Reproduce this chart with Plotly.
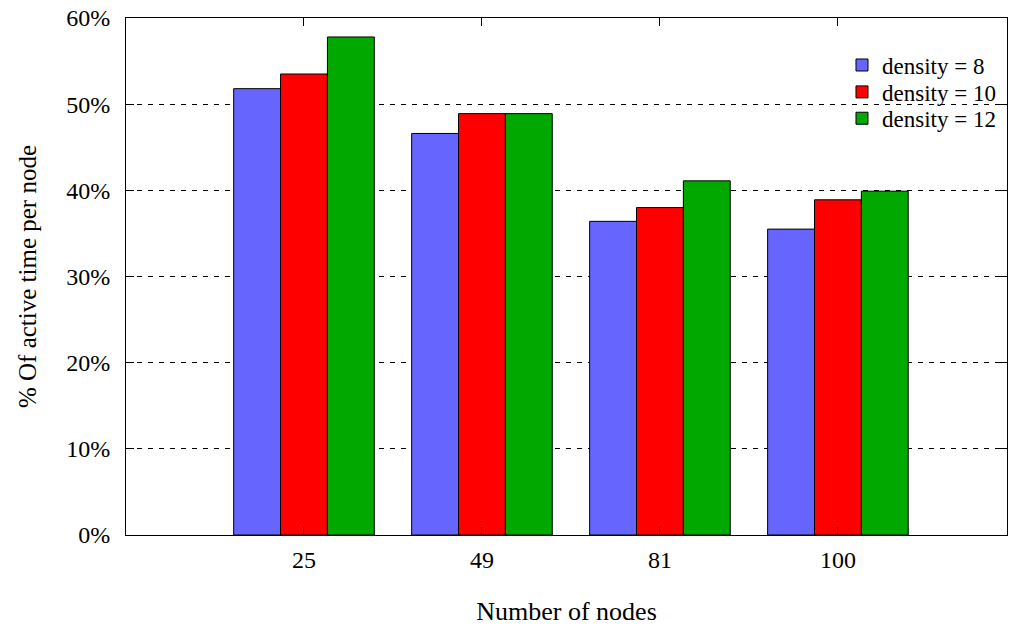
import plotly.graph_objects as go

categories = ["25", "49", "81", "100"]
density_8 = [51.8, 46.6, 36.4, 35.5]
density_10 = [53.5, 48.9, 38.0, 38.9]
density_12 = [57.8, 48.9, 41.1, 39.9]
series_names = ["density = 8", "density = 10", "density = 12"]
colors = ["#6666FF", "#FF0000", "#00A800"]
y_ticks = [0, 10, 20, 30, 40, 50, 60]
y_tick_labels = ["0%", "10%", "20%", "30%", "40%", "50%", "60%"]

font_family = "Liberation Serif"
legend_ids = ["legend", "legend2", "legend3"]
legend_y = [0.909, 0.857, 0.806]

fig = go.Figure()
for name, vals, col, lid in zip(series_names, [density_8, density_10, density_12], colors, legend_ids):
    fig.add_trace(go.Bar(
        x=categories, y=vals, name=name, legend=lid,
        marker=dict(color=col, line=dict(color="black", width=1)),
    ))

legend_common = dict(
    x=0.8127, xanchor="left", yanchor="middle",
    bgcolor="rgba(0,0,0,0)", font=dict(size=23, family=font_family),
    itemwidth=30, borderwidth=0,
)

layout_legends = {lid: dict(legend_common, y=ly) for lid, ly in zip(legend_ids, legend_y)}

fig.update_layout(
    width=1024, height=634,
    margin=dict(l=126, r=17, t=18, b=99, autoexpand=False),
    paper_bgcolor="white", plot_bgcolor="white",
    barmode="group", bargap=0.21, bargroupgap=0,
    font=dict(family=font_family, size=23, color="black"),
    showlegend=True,
    xaxis=dict(
        type="category", range=[-1, 3.95], automargin=False,
        showline=True, linecolor="black", linewidth=1, mirror="ticks",
        ticks="inside", ticklen=8, tickcolor="black",
        showgrid=False, tickfont=dict(size=24), ticklabelstandoff=3,
        title=dict(text="Number of nodes", font=dict(size=26), standoff=30),
    ),
    yaxis=dict(
        range=[0, 60], tickvals=y_ticks, ticktext=y_tick_labels, automargin=False,
        showline=True, linecolor="black", linewidth=1, mirror="ticks",
        ticks="inside", ticklen=8, tickcolor="black",
        showgrid=True, gridcolor="black", gridwidth=1, griddash="5px,6px",
        zeroline=False, tickfont=dict(size=24), ticklabelstandoff=10,
        ticklabeloverflow="allow",
        title=dict(text="% Of active time per node", font=dict(size=25), standoff=22),
    ),
    **layout_legends,
)

fig.write_html("out.html", config={"displayModeBar": False})

# remove the browser's default body margin so the figure fills the window exactly
with open("out.html", "r", encoding="utf-8") as f:
    html = f.read()
html = html.replace("<head>", "<head><style>html,body{margin:0;padding:0;overflow:hidden;}</style>", 1)
with open("out.html", "w", encoding="utf-8") as f:
    f.write(html)
